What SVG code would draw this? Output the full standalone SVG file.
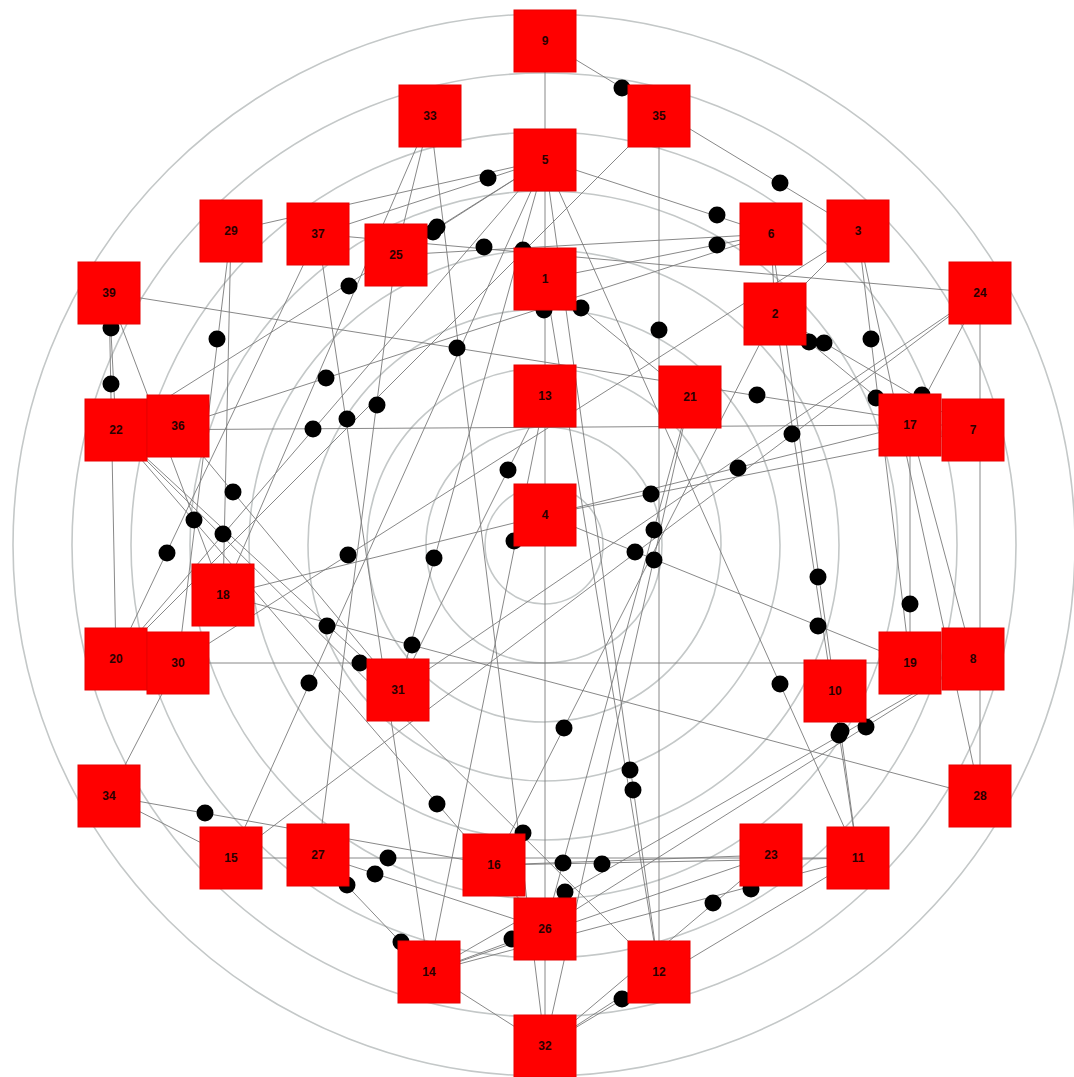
<svg xmlns="http://www.w3.org/2000/svg" width="1074" height="1077" viewBox="0 0 1074 1077">
<style>
.ring{fill:none;stroke:#c4c8c8;stroke-width:1.6}
.edges line{stroke:#7a7a7a;stroke-width:0.9}
.dots circle{fill:#000}
.node rect{fill:#ff0000;stroke:#e80000;stroke-width:1}
.node text{font-family:"Liberation Sans",Arial,sans-serif;font-size:12px;font-weight:bold;fill:#2a0000;text-anchor:middle;dominant-baseline:central}
</style>
<rect width="1074" height="1077" fill="#ffffff"/>
<g id="rings">
<circle class="ring" cx="544" cy="545" r="59"/>
<circle class="ring" cx="544" cy="545" r="118"/>
<circle class="ring" cx="544" cy="545" r="177"/>
<circle class="ring" cx="544" cy="545" r="236"/>
<circle class="ring" cx="544" cy="545" r="295"/>
<circle class="ring" cx="544" cy="545" r="354"/>
<circle class="ring" cx="544" cy="545" r="413"/>
<circle class="ring" cx="544" cy="545" r="472"/>
<circle class="ring" cx="544" cy="545" r="531"/>
</g>
<g id="connectors" class="edges">
<line x1="545" y1="41" x2="858" y2="231"/>
<line x1="545" y1="160" x2="318" y2="234"/>
<line x1="545" y1="160" x2="116" y2="430"/>
<line x1="545" y1="160" x2="396" y2="255"/>
<line x1="396" y1="255" x2="771" y2="234"/>
<line x1="318" y1="234" x2="980" y2="293"/>
<line x1="545" y1="160" x2="771" y2="234"/>
<line x1="545" y1="279" x2="771" y2="234"/>
<line x1="231" y1="231" x2="178" y2="663"/>
<line x1="109" y1="293" x2="116" y2="430"/>
<line x1="109" y1="293" x2="116" y2="659"/>
<line x1="545" y1="279" x2="545" y2="396"/>
<line x1="690" y1="397" x2="545" y2="279"/>
<line x1="659" y1="116" x2="659" y2="972"/>
<line x1="775" y1="314" x2="910" y2="425"/>
<line x1="775" y1="314" x2="973" y2="430"/>
<line x1="858" y1="231" x2="910" y2="663"/>
<line x1="430" y1="116" x2="545" y2="1046"/>
<line x1="178" y1="426" x2="771" y2="234"/>
<line x1="318" y1="234" x2="429" y2="972"/>
<line x1="396" y1="255" x2="318" y2="855"/>
<line x1="116" y1="430" x2="910" y2="425"/>
<line x1="109" y1="293" x2="973" y2="430"/>
<line x1="910" y1="425" x2="980" y2="293"/>
<line x1="775" y1="314" x2="858" y2="858"/>
<line x1="910" y1="425" x2="223" y2="595"/>
<line x1="545" y1="396" x2="398" y2="690"/>
<line x1="545" y1="515" x2="973" y2="430"/>
<line x1="690" y1="397" x2="545" y2="929"/>
<line x1="545" y1="396" x2="429" y2="972"/>
<line x1="545" y1="515" x2="910" y2="663"/>
<line x1="690" y1="397" x2="545" y2="1046"/>
<line x1="178" y1="426" x2="398" y2="690"/>
<line x1="109" y1="293" x2="223" y2="595"/>
<line x1="231" y1="231" x2="223" y2="595"/>
<line x1="116" y1="659" x2="318" y2="234"/>
<line x1="178" y1="663" x2="858" y2="231"/>
<line x1="398" y1="690" x2="545" y2="160"/>
<line x1="771" y1="234" x2="835" y2="691"/>
<line x1="910" y1="425" x2="910" y2="663"/>
<line x1="116" y1="430" x2="398" y2="690"/>
<line x1="178" y1="663" x2="910" y2="663"/>
<line x1="231" y1="858" x2="545" y2="160"/>
<line x1="545" y1="160" x2="858" y2="858"/>
<line x1="973" y1="659" x2="545" y2="929"/>
<line x1="835" y1="691" x2="858" y2="858"/>
<line x1="973" y1="659" x2="429" y2="972"/>
<line x1="775" y1="314" x2="494" y2="865"/>
<line x1="545" y1="160" x2="659" y2="972"/>
<line x1="545" y1="279" x2="659" y2="972"/>
<line x1="116" y1="430" x2="545" y2="929"/>
<line x1="109" y1="796" x2="494" y2="865"/>
<line x1="116" y1="430" x2="659" y2="972"/>
<line x1="231" y1="858" x2="858" y2="858"/>
<line x1="318" y1="855" x2="545" y2="929"/>
<line x1="318" y1="855" x2="429" y2="972"/>
<line x1="494" y1="865" x2="771" y2="855"/>
<line x1="494" y1="865" x2="858" y2="858"/>
<line x1="858" y1="858" x2="429" y2="972"/>
<line x1="771" y1="855" x2="545" y2="1046"/>
<line x1="545" y1="929" x2="429" y2="972"/>
<line x1="429" y1="972" x2="771" y2="855"/>
<line x1="545" y1="1046" x2="858" y2="858"/>
<line x1="545" y1="41" x2="545" y2="160"/>
<line x1="545" y1="160" x2="545" y2="279"/>
<line x1="545" y1="396" x2="545" y2="515"/>
<line x1="545" y1="515" x2="545" y2="929"/>
<line x1="545" y1="929" x2="545" y2="1046"/>
<line x1="231" y1="231" x2="545" y2="160"/>
<line x1="430" y1="116" x2="396" y2="255"/>
<line x1="858" y1="231" x2="775" y2="314"/>
<line x1="858" y1="231" x2="980" y2="796"/>
<line x1="980" y1="293" x2="980" y2="796"/>
<line x1="910" y1="425" x2="973" y2="659"/>
<line x1="980" y1="293" x2="398" y2="690"/>
<line x1="223" y1="595" x2="980" y2="796"/>
<line x1="109" y1="796" x2="231" y2="858"/>
<line x1="109" y1="796" x2="178" y2="663"/>
<line x1="231" y1="858" x2="980" y2="293"/>
<line x1="429" y1="972" x2="545" y2="1046"/>
<line x1="659" y1="972" x2="545" y2="1046"/>
<line x1="430" y1="116" x2="223" y2="595"/>
<line x1="659" y1="116" x2="116" y2="659"/>
<line x1="771" y1="234" x2="775" y2="314"/>
<line x1="116" y1="659" x2="545" y2="160"/>
</g>
<g id="markers" class="dots">
<circle cx="622" cy="88" r="8.5"/>
<circle cx="780" cy="183" r="8.5"/>
<circle cx="488" cy="178" r="8.5"/>
<circle cx="437" cy="227" r="8.5"/>
<circle cx="433" cy="232" r="8.5"/>
<circle cx="484" cy="247" r="8.5"/>
<circle cx="523" cy="250" r="8.5"/>
<circle cx="717" cy="215" r="8.5"/>
<circle cx="717" cy="245" r="8.5"/>
<circle cx="349" cy="286" r="8.5"/>
<circle cx="217" cy="339" r="8.5"/>
<circle cx="111" cy="328" r="8.5"/>
<circle cx="111" cy="384" r="8.5"/>
<circle cx="544" cy="310" r="8.5"/>
<circle cx="581" cy="308" r="8.5"/>
<circle cx="659" cy="330" r="8.5"/>
<circle cx="809" cy="342" r="8.5"/>
<circle cx="824" cy="343" r="8.5"/>
<circle cx="871" cy="339" r="8.5"/>
<circle cx="457" cy="348" r="8.5"/>
<circle cx="326" cy="378" r="8.5"/>
<circle cx="347" cy="419" r="8.5"/>
<circle cx="377" cy="405" r="8.5"/>
<circle cx="313" cy="429" r="8.5"/>
<circle cx="757" cy="395" r="8.5"/>
<circle cx="876" cy="398" r="8.5"/>
<circle cx="922" cy="395" r="8.5"/>
<circle cx="792" cy="434" r="8.5"/>
<circle cx="738" cy="468" r="8.5"/>
<circle cx="508" cy="470" r="8.5"/>
<circle cx="651" cy="494" r="8.5"/>
<circle cx="654" cy="530" r="8.5"/>
<circle cx="514" cy="541" r="8.5"/>
<circle cx="635" cy="552" r="8.5"/>
<circle cx="654" cy="560" r="8.5"/>
<circle cx="233" cy="492" r="8.5"/>
<circle cx="194" cy="520" r="8.5"/>
<circle cx="223" cy="534" r="8.5"/>
<circle cx="167" cy="553" r="8.5"/>
<circle cx="348" cy="555" r="8.5"/>
<circle cx="434" cy="558" r="8.5"/>
<circle cx="818" cy="577" r="8.5"/>
<circle cx="910" cy="604" r="8.5"/>
<circle cx="818" cy="626" r="8.5"/>
<circle cx="327" cy="626" r="8.5"/>
<circle cx="412" cy="645" r="8.5"/>
<circle cx="360" cy="663" r="8.5"/>
<circle cx="309" cy="683" r="8.5"/>
<circle cx="780" cy="684" r="8.5"/>
<circle cx="866" cy="727" r="8.5"/>
<circle cx="839" cy="735" r="8.5"/>
<circle cx="841" cy="731" r="8.5"/>
<circle cx="564" cy="728" r="8.5"/>
<circle cx="630" cy="770" r="8.5"/>
<circle cx="633" cy="790" r="8.5"/>
<circle cx="437" cy="804" r="8.5"/>
<circle cx="205" cy="813" r="8.5"/>
<circle cx="523" cy="833" r="8.5"/>
<circle cx="388" cy="858" r="8.5"/>
<circle cx="375" cy="874" r="8.5"/>
<circle cx="347" cy="885" r="8.5"/>
<circle cx="563" cy="863" r="8.5"/>
<circle cx="602" cy="864" r="8.5"/>
<circle cx="565" cy="892" r="8.5"/>
<circle cx="751" cy="889" r="8.5"/>
<circle cx="713" cy="903" r="8.5"/>
<circle cx="401" cy="942" r="8.5"/>
<circle cx="512" cy="939" r="8.5"/>
<circle cx="622" cy="999" r="8.5"/>
</g>
<g id="nodes">
<g id="n9" class="node"><rect x="514" y="10" width="62" height="62"/><text x="545" y="41">9</text></g>
<g id="n33" class="node"><rect x="399" y="85" width="62" height="62"/><text x="430" y="116">33</text></g>
<g id="n35" class="node"><rect x="628" y="85" width="62" height="62"/><text x="659" y="116">35</text></g>
<g id="n5" class="node"><rect x="514" y="129" width="62" height="62"/><text x="545" y="160">5</text></g>
<g id="n29" class="node"><rect x="200" y="200" width="62" height="62"/><text x="231" y="231">29</text></g>
<g id="n37" class="node"><rect x="287" y="203" width="62" height="62"/><text x="318" y="234">37</text></g>
<g id="n25" class="node"><rect x="365" y="224" width="62" height="62"/><text x="396" y="255">25</text></g>
<g id="n1" class="node"><rect x="514" y="248" width="62" height="62"/><text x="545" y="279">1</text></g>
<g id="n6" class="node"><rect x="740" y="203" width="62" height="62"/><text x="771" y="234">6</text></g>
<g id="n3" class="node"><rect x="827" y="200" width="62" height="62"/><text x="858" y="231">3</text></g>
<g id="n24" class="node"><rect x="949" y="262" width="62" height="62"/><text x="980" y="293">24</text></g>
<g id="n39" class="node"><rect x="78" y="262" width="62" height="62"/><text x="109" y="293">39</text></g>
<g id="n2" class="node"><rect x="744" y="283" width="62" height="62"/><text x="775" y="314">2</text></g>
<g id="n13" class="node"><rect x="514" y="365" width="62" height="62"/><text x="545" y="396">13</text></g>
<g id="n21" class="node"><rect x="659" y="366" width="62" height="62"/><text x="690" y="397">21</text></g>
<g id="n22" class="node"><rect x="85" y="399" width="62" height="62"/><text x="116" y="430">22</text></g>
<g id="n36" class="node"><rect x="147" y="395" width="62" height="62"/><text x="178" y="426">36</text></g>
<g id="n17" class="node"><rect x="879" y="394" width="62" height="62"/><text x="910" y="425">17</text></g>
<g id="n7" class="node"><rect x="942" y="399" width="62" height="62"/><text x="973" y="430">7</text></g>
<g id="n4" class="node"><rect x="514" y="484" width="62" height="62"/><text x="545" y="515">4</text></g>
<g id="n18" class="node"><rect x="192" y="564" width="62" height="62"/><text x="223" y="595">18</text></g>
<g id="n20" class="node"><rect x="85" y="628" width="62" height="62"/><text x="116" y="659">20</text></g>
<g id="n30" class="node"><rect x="147" y="632" width="62" height="62"/><text x="178" y="663">30</text></g>
<g id="n31" class="node"><rect x="367" y="659" width="62" height="62"/><text x="398" y="690">31</text></g>
<g id="n19" class="node"><rect x="879" y="632" width="62" height="62"/><text x="910" y="663">19</text></g>
<g id="n8" class="node"><rect x="942" y="628" width="62" height="62"/><text x="973" y="659">8</text></g>
<g id="n10" class="node"><rect x="804" y="660" width="62" height="62"/><text x="835" y="691">10</text></g>
<g id="n34" class="node"><rect x="78" y="765" width="62" height="62"/><text x="109" y="796">34</text></g>
<g id="n28" class="node"><rect x="949" y="765" width="62" height="62"/><text x="980" y="796">28</text></g>
<g id="n15" class="node"><rect x="200" y="827" width="62" height="62"/><text x="231" y="858">15</text></g>
<g id="n27" class="node"><rect x="287" y="824" width="62" height="62"/><text x="318" y="855">27</text></g>
<g id="n16" class="node"><rect x="463" y="834" width="62" height="62"/><text x="494" y="865">16</text></g>
<g id="n23" class="node"><rect x="740" y="824" width="62" height="62"/><text x="771" y="855">23</text></g>
<g id="n11" class="node"><rect x="827" y="827" width="62" height="62"/><text x="858" y="858">11</text></g>
<g id="n26" class="node"><rect x="514" y="898" width="62" height="62"/><text x="545" y="929">26</text></g>
<g id="n14" class="node"><rect x="398" y="941" width="62" height="62"/><text x="429" y="972">14</text></g>
<g id="n12" class="node"><rect x="628" y="941" width="62" height="62"/><text x="659" y="972">12</text></g>
<g id="n32" class="node"><rect x="514" y="1015" width="62" height="62"/><text x="545" y="1046">32</text></g>
</g>
</svg>
